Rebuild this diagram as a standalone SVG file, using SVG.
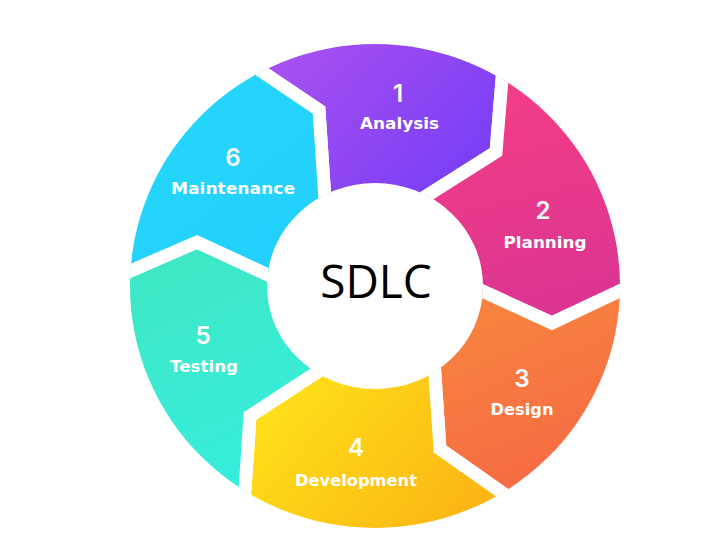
<svg xmlns="http://www.w3.org/2000/svg" width="707" height="550" viewBox="0 0 707 550">
<style>
.seg{stroke:#fff;stroke-width:13;stroke-linejoin:miter}
.num{font-family:Inter,"Open Sans",sans-serif;font-weight:600;font-size:24px;fill:#fff;text-anchor:middle}
.lbl{font-family:"DejaVu Sans",sans-serif;font-weight:bold;font-size:15.5px;fill:#fff;text-anchor:middle}
.title{font-family:"Open Sans","Noto Sans",sans-serif;font-size:46px;fill:#000;text-anchor:middle}
</style>
<defs>
<clipPath id="ring"><path clip-rule="evenodd" d="M130,286 a245,242 0 1,0 490,0 a245,242 0 1,0 -490,0 Z M267,286 a108,103 0 1,0 216,0 a108,103 0 1,0 -216,0 Z"/></clipPath>
<linearGradient id="g1" gradientUnits="userSpaceOnUse" x1="300" y1="50" x2="450" y2="190"><stop offset="0" stop-color="#a64ff0"/><stop offset="1" stop-color="#7a3ff5"/></linearGradient>
<linearGradient id="g2" gradientUnits="userSpaceOnUse" x1="500" y1="80" x2="560" y2="320"><stop offset="0" stop-color="#f43d86"/><stop offset="1" stop-color="#da3592"/></linearGradient>
<linearGradient id="g3" gradientUnits="userSpaceOnUse" x1="480" y1="300" x2="560" y2="490"><stop offset="0" stop-color="#f8843f"/><stop offset="1" stop-color="#f56a44"/></linearGradient>
<linearGradient id="g4" gradientUnits="userSpaceOnUse" x1="280" y1="380" x2="460" y2="530"><stop offset="0" stop-color="#fee119"/><stop offset="1" stop-color="#fbb514"/></linearGradient>
<linearGradient id="g5" gradientUnits="userSpaceOnUse" x1="150" y1="260" x2="250" y2="480"><stop offset="0" stop-color="#3fe7c4"/><stop offset="1" stop-color="#36eedd"/></linearGradient>
<linearGradient id="g6" gradientUnits="userSpaceOnUse" x1="150" y1="80" x2="300" y2="260"><stop offset="0" stop-color="#27d6fa"/><stop offset="1" stop-color="#22d0fc"/></linearGradient>
</defs>
<rect width="707" height="550" fill="#fff"/>
<g id="connectors"></g>
<g id="node1">
<g clip-path="url(#ring)"><path class="seg" fill="url(#g1)" d="M221,44 L319,110 L328,245 L375,286 L398,214 L496,152 L506,32 L387,-55 Z"/></g>
<text class="num" x="398" y="102">1</text>
<text class="lbl" x="399.5" y="129" textLength="79" lengthAdjust="spacingAndGlyphs">Analysis</text>
</g>
<g id="node2">
<g clip-path="url(#ring)"><path class="seg" fill="url(#g2)" d="M506,32 L496,152 L398,214 L375,286 L443,273 L552,323 L658,273 L675,125 Z"/></g>
<text class="num" x="543" y="219">2</text>
<text class="lbl" x="545" y="248" textLength="83" lengthAdjust="spacingAndGlyphs">Planning</text>
</g>
<g id="node3">
<g clip-path="url(#ring)"><path class="seg" fill="url(#g3)" d="M658,273 L552,323 L443,273 L375,286 L432,331 L440,449 L538,518 L663,465 Z"/></g>
<text class="num" x="522" y="387">3</text>
<text class="lbl" x="522" y="415" textLength="63" lengthAdjust="spacingAndGlyphs">Design</text>
</g>
<g id="node4">
<g clip-path="url(#ring)"><path class="seg" fill="url(#g4)" d="M538,518 L440,449 L432,331 L375,286 L351,350 L250,416 L242,534 L363,625 Z"/></g>
<text class="num" x="356" y="456">4</text>
<text class="lbl" x="356" y="486" textLength="122" lengthAdjust="spacingAndGlyphs">Development</text>
</g>
<g id="node5">
<g clip-path="url(#ring)"><path class="seg" fill="url(#g5)" d="M242,534 L250,416 L351,350 L375,286 L307,293 L197,242 L91,288 L75,445 Z"/></g>
<text class="num" x="203" y="344">5</text>
<text class="lbl" x="204" y="372" textLength="68" lengthAdjust="spacingAndGlyphs">Testing</text>
</g>
<g id="node6">
<g clip-path="url(#ring)"><path class="seg" fill="url(#g6)" d="M91,288 L197,242 L307,293 L375,286 L328,245 L319,110 L221,44 L87,105 Z"/></g>
<text class="num" x="233" y="166">6</text>
<text class="lbl" x="233" y="194" textLength="124" lengthAdjust="spacingAndGlyphs">Maintenance</text>
</g>
<g id="center">
<text class="title" x="376" y="298">SDLC</text>
</g>
</svg>
